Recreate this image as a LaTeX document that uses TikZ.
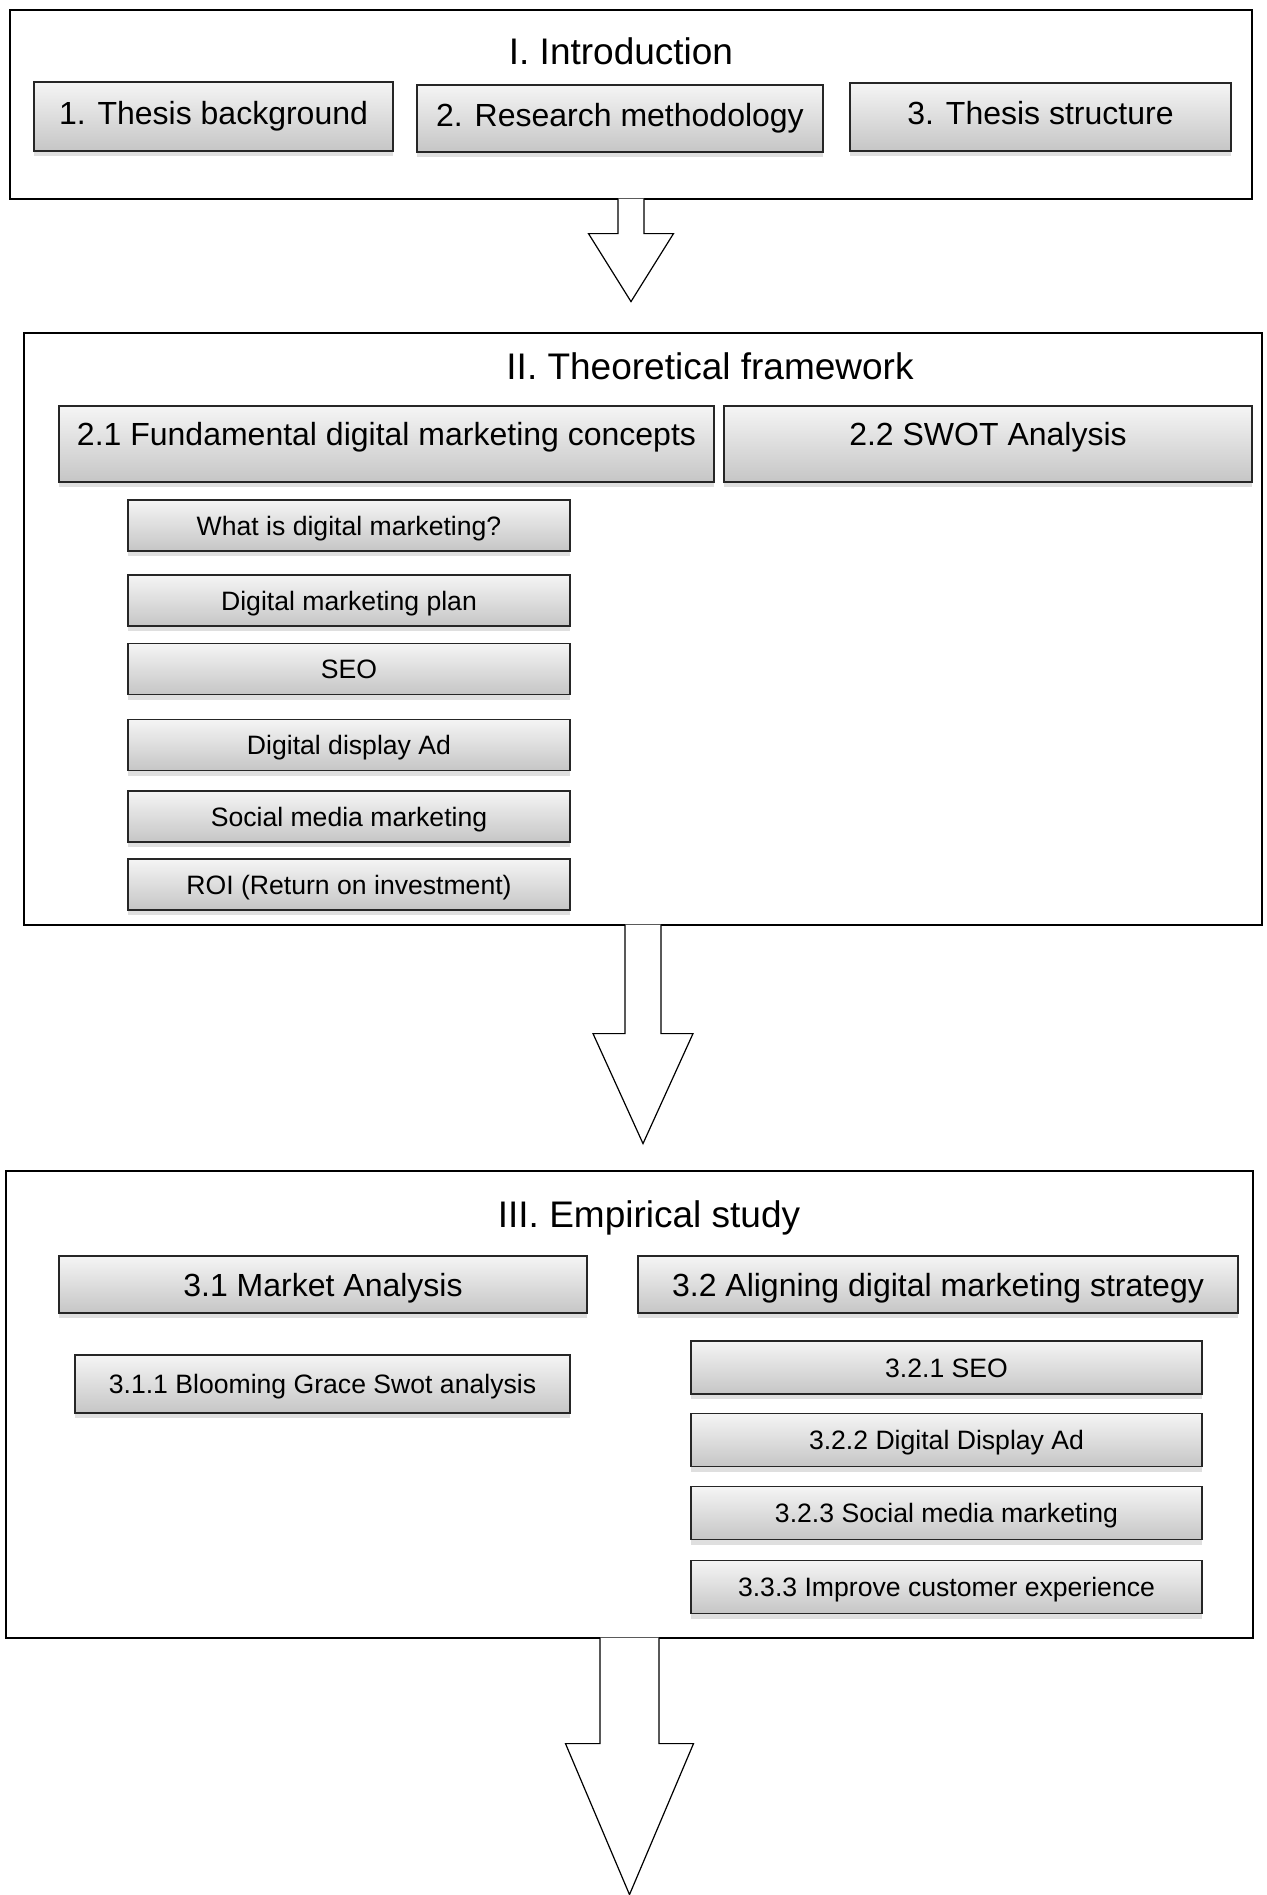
\documentclass[tikz,border=0pt]{standalone}
\usepackage{fontspec}
\setmainfont{Liberation Sans}
\usetikzlibrary{shadows}

\tikzset{
  chapter/.style={draw=black, line width=0.6pt, fill=white, inner sep=0pt},
  heading/.style={font=\fontsize{18.5}{22}\selectfont, inner sep=0pt, text height=13.3pt, text depth=0pt},
  section box/.style={draw=black!85, line width=0.8pt, top color=gray!8, bottom color=gray!45,
    drop shadow={shadow xshift=0pt, shadow yshift=-2.5pt, opacity=0.25},
    font=\fontsize{16}{19}\selectfont, inner sep=0pt, text height=11.5pt, text depth=0pt},
  topic box/.style={section box, font=\fontsize{13.3}{16}\selectfont, text height=9.6pt},
  block arrow/.style={draw=black, line width=0.6pt, fill=white, line join=miter},
}

\begin{document}
\begin{tikzpicture}[x=0.5pt,y=-0.5pt]
  \useasboundingbox (0,0) rectangle (1266,1895);

  % I. Introduction
  \node[chapter, minimum width=621pt, minimum height=94.5pt] (intro) at (631,104.5) {};
  \node[heading] (introtitle) at (621,51) {I. Introduction};
  \node[section box, minimum width=179.5pt, minimum height=34.5pt, text depth=4pt] (background) at (213.5,116.5) {1. Thesis background};
  \node[section box, minimum width=203pt, minimum height=33.5pt, text depth=4pt] (method) at (620,118.5) {2. Research methodology};
  \node[section box, minimum width=190.5pt, minimum height=34pt, text depth=4pt] (structure) at (1040.5,117) {3. Thesis structure};

  % II. Theoretical framework
  \node[chapter, minimum width=619pt, minimum height=296pt] (theory) at (643,629) {};
  \node[heading] (theorytitle) at (710,366) {II. Theoretical framework};
  \node[section box, minimum width=327.5pt, minimum height=38pt, text depth=10pt] (concepts) at (386.5,444) {2.1 Fundamental digital marketing concepts};
  \node[section box, minimum width=264pt, minimum height=38pt, text depth=10pt] (swot) at (988,444) {2.2 SWOT Analysis};
  \node[topic box, minimum width=221pt, minimum height=25.5pt] (whatis) at (349,525.5) {What is digital marketing?};
  \node[topic box, minimum width=221pt, minimum height=25.5pt] (plan) at (349,600.5) {Digital marketing plan};
  \node[topic box, minimum width=221pt, minimum height=25.5pt] (seo) at (349,669) {SEO};
  \node[topic box, minimum width=221pt, minimum height=25.5pt] (display) at (349,745) {Digital display Ad};
  \node[topic box, minimum width=221pt, minimum height=25.5pt] (social) at (349,816.5) {Social media marketing};
  \node[topic box, minimum width=221pt, minimum height=25.5pt] (roi) at (349,884.5) {ROI (Return on investment)};

  % III. Empirical study
  \node[chapter, minimum width=623.5pt, minimum height=233.5pt] (empirical) at (629.5,1404.5) {};
  \node[heading] (empiricaltitle) at (649,1214) {III. Empirical study};
  \node[section box, minimum width=264pt, minimum height=28.5pt] (market) at (323,1284.5) {3.1 Market Analysis};
  \node[section box, minimum width=300pt, minimum height=28.5pt] (aligning) at (938,1284.5) {3.2 Aligning digital marketing strategy};
  \node[topic box, minimum width=247.5pt, minimum height=29pt] (blooming) at (322.5,1384) {3.1.1 Blooming Grace Swot analysis};
  \node[topic box, minimum width=255.5pt, minimum height=26.5pt] (seoplan) at (946.5,1367.5) {3.2.1 SEO};
  \node[topic box, minimum width=255.5pt, minimum height=26.5pt] (displayplan) at (946.5,1440) {3.2.2 Digital Display Ad};
  \node[topic box, minimum width=255.5pt, minimum height=26.5pt] (socialplan) at (946.5,1513) {3.2.3 Social media marketing};
  \node[topic box, minimum width=255.5pt, minimum height=26.5pt] (experience) at (946.5,1587) {3.3.3 Improve customer experience};

  % block arrows between the chapters
  \filldraw[block arrow] ([xshift=-6.5pt,yshift=0.5pt]intro.south) -- ++(0pt,-17.5pt) -- ++(-14.75pt,0pt)
    -- ++(21.25pt,-34pt) -- ++(21.25pt,34pt) -- ++(-14.75pt,0pt) -- ++(0pt,17.5pt);
  \filldraw[block arrow] ([xshift=-9pt,yshift=0.5pt]theory.south) -- ++(0pt,-54.5pt) -- ++(-16pt,0pt)
    -- ++(25pt,-55pt) -- ++(25pt,55pt) -- ++(-16pt,0pt) -- ++(0pt,54.5pt);
  \filldraw[block arrow] ([xshift=-14.75pt,yshift=0.5pt]empirical.south) -- ++(0pt,-53pt) -- ++(-17.25pt,0pt)
    -- ++(32pt,-75.5pt) -- ++(32pt,75.5pt) -- ++(-17.25pt,0pt) -- ++(0pt,53pt);
\end{tikzpicture}
\end{document}
